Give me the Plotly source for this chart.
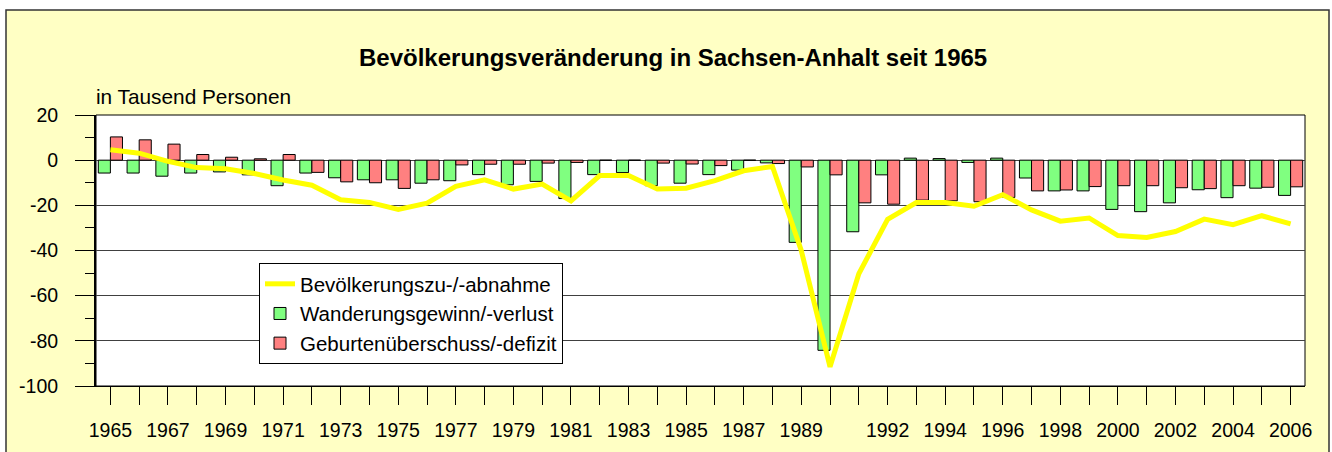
import plotly.graph_objects as go

years = list(range(1965, 2007))

wanderung = [-5.7, -5.7, -7.1, -5.7, -5.2, -6.5, -11.3, -5.7, -7.8, -8.7,
             -8.7, -10.2, -9.1, -6.4, -10.9, -9.4, -17.0, -6.4, -5.5, -11.3,
             -10.2, -6.4, -4.4, -1.2, -36.4, -84.2, -31.7, -6.5, 0.9, 0.7,
             -1.0, 0.9, -7.9, -13.6, -13.6, -21.8, -22.8, -18.9, -13.1, -16.6,
             -12.4, -15.6]

geburten = [10.3, 9.0, 7.1, 2.5, 1.3, 0.6, 2.5, -5.4, -9.6, -10.0,
            -12.5, -8.7, -2.1, -1.8, -1.8, -1.3, -1.0, 0.0, 0.0, -1.3,
            -1.7, -2.4, 0.0, -1.5, -3.0, -6.5, -18.9, -19.5, -17.7, -18.0,
            -18.4, -16.5, -13.6, -13.2, -11.7, -11.3, -11.3, -12.2, -12.6, -11.3,
            -12.0, -11.8]

bevoelkerung = [4.6, 3.1, -0.5, -3.3, -3.8, -5.9, -8.8, -11.1, -17.5, -18.7,
                -21.8, -19.0, -11.6, -8.7, -12.8, -10.6, -18.0, -6.8, -6.8, -12.8,
                -12.4, -9.1, -4.7, -2.8, -40.0, -91.5, -50.3, -26.2, -18.8, -18.8,
                -20.4, -15.3, -22.0, -27.0, -25.6, -33.4, -34.2, -31.6, -26.1, -28.6,
                -24.6, -28.2]

labelled_years = [1965, 1967, 1969, 1971, 1973, 1975, 1977, 1979, 1981, 1983,
                  1985, 1987, 1989, 1992, 1994, 1996, 1998, 2000, 2002, 2004, 2006]
tick_text = [str(y) if y in labelled_years else "" for y in years]

y_tickvals = [20, 0, -20, -40, -60, -80, -100]
y_ticktext = ["20", "0", "-20", "-40", "-60", "-80", "-100"]

title_text = "Bevölkerungsveränderung in Sachsen-Anhalt seit 1965"
unit_text = "in Tausend Personen"
names = ["Bevölkerungszu-/-abnahme", "Wanderungsgewinn/-verlust", "Geburtenüberschuss/-defizit"]

FONT = "Arial, Liberation Sans, sans-serif"
W, H = 1332, 452
L, R, T, B = 96, 27, 115, 66
PW, PH = W - L - R, H - T - B


def px_x(x):
    return (x - L) / PW


def px_y(y):
    return (H - B - y) / PH


fig = go.Figure()
fig.add_trace(go.Bar(
    x=years, y=wanderung, name=names[1], legendrank=2,
    marker=dict(color="#80FF80", line=dict(color="black", width=1)),
))
fig.add_trace(go.Bar(
    x=years, y=geburten, name=names[2], legendrank=3,
    marker=dict(color="#FF8080", line=dict(color="black", width=1)),
))
fig.add_trace(go.Scatter(
    x=years, y=bevoelkerung, name=names[0], legendrank=1, mode="lines",
    line=dict(color="#FFFF00", width=5),
))

fig.update_layout(
    width=W, height=H,
    margin=dict(l=L, r=R, t=T, b=B, pad=0),
    paper_bgcolor="white",
    plot_bgcolor="rgba(0,0,0,0)",
    barmode="group", bargap=0.16, bargroupgap=0,
    font=dict(family=FONT, size=20, color="black"),
    showlegend=True,
    legend=dict(
        x=px_x(259), y=px_y(263), xanchor="left", yanchor="top",
        bgcolor="white", bordercolor="black", borderwidth=1,
        font=dict(family=FONT, size=20.5, color="black"),
        tracegroupgap=0,
    ),
    shapes=[
        dict(type="rect", xref="paper", yref="paper", layer="below",
             x0=px_x(6), x1=px_x(1329), y0=px_y(470), y1=px_y(10),
             fillcolor="#FFFFC4", line=dict(color="#333333", width=1.5)),
        dict(type="rect", xref="x domain", yref="y domain", layer="below",
             x0=0, x1=1, y0=0, y1=1,
             fillcolor="white", line=dict(color="black", width=1)),
    ],
    annotations=[
        dict(text="<b>" + title_text + "</b>", xref="paper", yref="paper",
             x=px_x(673), y=px_y(58), xanchor="center", yanchor="middle",
             showarrow=False, font=dict(family=FONT, size=24, color="black")),
        dict(text=unit_text, xref="paper", yref="paper",
             x=px_x(94), y=px_y(96), xanchor="left", yanchor="middle",
             showarrow=False, font=dict(family=FONT, size=20.8, color="black")),
    ],
)

fig.update_xaxes(
    range=[1964.5, 2006.5],
    tickmode="array", tickvals=years, ticktext=tick_text,
    ticks="outside", ticklen=18, tickwidth=1, tickcolor="black",
    ticklabelstandoff=9,
    showgrid=False, zeroline=False,
    showline=True, linecolor="black", linewidth=1,
    tickfont=dict(family=FONT, size=19.5, color="black"),
)
fig.update_yaxes(
    range=[-100, 20],
    tickmode="array", tickvals=y_tickvals, ticktext=y_ticktext,
    ticks="outside", ticklen=19, tickwidth=1, tickcolor="black",
    ticklabelstandoff=13,
    showgrid=True, gridcolor="#404040", gridwidth=1,
    zeroline=False,
    showline=True, linecolor="black", linewidth=2,
    tickfont=dict(family=FONT, size=19.5, color="black"),
    minor=dict(tickmode="array", tickvals=[10, -10, -30, -50, -70, -90],
               ticks="outside", ticklen=9, tickcolor="black",
               tickwidth=1, showgrid=False),
)

fig.write_html("out.html", config={"displayModeBar": False},
               post_script="document.body.style.margin='0';")
